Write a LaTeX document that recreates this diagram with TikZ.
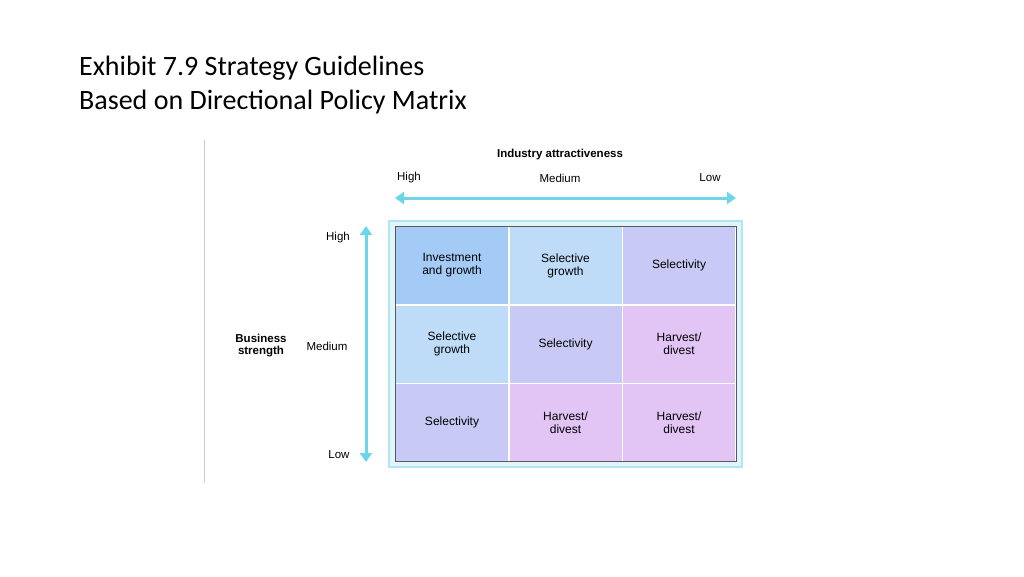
\documentclass[tikz,border=0pt]{standalone}
\usepackage{fontspec}
\setmainfont{Carlito}
\newfontfamily\arialfont{Liberation Sans}
\usetikzlibrary{arrows.meta}
\definecolor{cellA}{HTML}{A3CBF5}
\definecolor{cellB}{HTML}{BEDCF8}
\definecolor{cellC}{HTML}{C9C9F5}
\definecolor{cellD}{HTML}{E2C4F5}
\definecolor{arrowcol}{HTML}{6DD5EA}
\definecolor{framecol}{HTML}{B0E6F2}
\tikzset{
  cell/.style={minimum width=113pt,minimum height=78pt,inner sep=0pt,align=center,
    draw=white,line width=1pt,font=\arialfont\fontsize{12}{13}\selectfont},
  axislabel/.style={font=\arialfont\fontsize{11.5}{12}\selectfont,inner sep=0pt},
  axisarrow/.style={draw=arrowcol,line width=3pt,{Triangle[length=9pt,width=12pt]}-{Triangle[length=9pt,width=12pt]}}
}
\begin{document}
\begin{tikzpicture}[x=1pt,y=-1pt]
\useasboundingbox (0,0) rectangle (1024,576);
\fill[white] (0,0) rectangle (1024,576);
% title
\node[anchor=west,font=\fontsize{28}{34}\selectfont,align=left,inner sep=0pt] (title) at (79,85)
  {Exhibit 7.9 Strategy Guidelines\\Based on Directional Policy Matrix};
\draw[gray!40,line width=0.8pt] (204,140) -- (204,483);
% matrix frame
\fill[framecol] (388,220) rectangle (743,468);
\fill[white!60!framecol] (390,222) rectangle (741,466);
% cells
\node[cell,fill=cellA] (c11) at (452,265.5) {Investment\\and growth};
\node[cell,fill=cellB] (c12) at (565.5,265.5) {Selective\\growth};
\node[cell,fill=cellC] (c13) at (679,265.5) {Selectivity};
\node[cell,fill=cellB] (c21) at (452,344) {Selective\\growth};
\node[cell,fill=cellC] (c22) at (565.5,344) {Selectivity};
\node[cell,fill=cellD] (c23) at (679,344) {Harvest/\\divest};
\node[cell,fill=cellC] (c31) at (452,422.5) {Selectivity};
\node[cell,fill=cellD] (c32) at (565.5,422.5) {Harvest/\\divest};
\node[cell,fill=cellD] (c33) at (679,422.5) {Harvest/\\divest};
\draw[gray!70!black,line width=0.8pt] (395,226.5) rectangle (736,461.5);
% top axis
\node[axislabel,font=\arialfont\bfseries\fontsize{11.5}{12}\selectfont] (ia) at (560,155) {Industry attractiveness};
\node[axislabel] (thigh) at (409,178) {High};
\node[axislabel] (tmed) at (560,178) {Medium};
\node[axislabel] (tlow) at (710,178) {Low};
\coordinate (ha) at (395,198);
\coordinate (hb) at (736,198);
\draw[axisarrow] (ha) -- (hb);
% left axis
\node[axislabel,align=center,font=\arialfont\bfseries\fontsize{11.5}{12}\selectfont] (bs) at (261,346) {Business\\strength};
\node[axislabel] (lhigh) at (338,238) {High};
\node[axislabel] (lmed) at (327,346) {Medium};
\node[axislabel] (llow) at (339,455) {Low};
\coordinate (va) at (366,226);
\coordinate (vb) at (366,462);
\draw[axisarrow] (va) -- (vb);
\end{tikzpicture}
\end{document}
